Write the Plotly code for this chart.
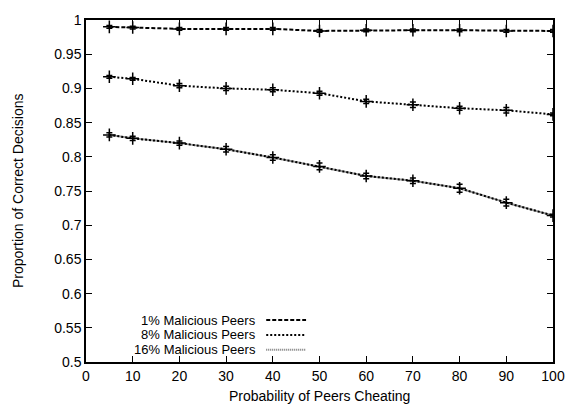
import plotly.graph_objects as go

x_vals = [5, 10, 20, 30, 40, 50, 60, 70, 80, 90, 100]
series_names = ["1% Malicious Peers", "8% Malicious Peers", "16% Malicious Peers"]
y_1pct = [0.990, 0.989, 0.987, 0.987, 0.987, 0.984, 0.985, 0.985, 0.985, 0.984, 0.984]
y_8pct = [0.917, 0.914, 0.904, 0.900, 0.898, 0.893, 0.881, 0.876, 0.871, 0.868, 0.862]
y_16pct = [0.832, 0.827, 0.820, 0.811, 0.799, 0.786, 0.772, 0.765, 0.754, 0.733, 0.714]
err_1pct = [0.002, 0.002, 0.002, 0.002, 0.002, 0.002, 0.002, 0.002, 0.002, 0.002, 0.002]
err_8pct = [0.002, 0.002, 0.003, 0.003, 0.003, 0.003, 0.003, 0.004, 0.003, 0.004, 0.002]
err_16pct = [0.003, 0.003, 0.003, 0.004, 0.004, 0.005, 0.004, 0.004, 0.006, 0.005, 0.002]

x_ticks = [0, 10, 20, 30, 40, 50, 60, 70, 80, 90, 100]
y_ticks = [0.5, 0.55, 0.6, 0.65, 0.7, 0.75, 0.8, 0.85, 0.9, 0.95, 1.0]
y_tick_text = ["0.5", "0.55", "0.6", "0.65", "0.7", "0.75", "0.8", "0.85", "0.9", "0.95", "1"]

FONT = "Liberation Sans, Arial, sans-serif"

fig = go.Figure()

styles = [
    dict(color="black", dash="4px,2px", width=2),
    dict(color="black", dash="2px,2px", width=2),
    dict(color="black", dash="2px,2px", width=2),
]
ys = [y_1pct, y_8pct, y_16pct]
errs = [err_1pct, err_8pct, err_16pct]

# gray underlay for the 16% series
fig.add_trace(go.Scatter(x=x_vals, y=y_16pct, mode="lines",
                         line=dict(color="#999999", width=2),
                         showlegend=False, hoverinfo="skip"))

for name, y, e, st in zip(series_names, ys, errs, styles):
    fig.add_trace(go.Scatter(
        x=x_vals, y=y, name=name, mode="lines+markers",
        line=st,
        marker=dict(symbol="cross-thin", size=9, line=dict(color="black", width=1.5)),
        error_y=dict(type="data", array=e, visible=True, color="black", thickness=1.5, width=3),
        showlegend=False,
    ))

# custom gnuplot-style legend (text then sample line)
legend_y = [320.0, 334.8, 349.6]
legend_dash = ["4px,2px", "2px,2px", "1px,1px"]
legend_col = ["black", "black", "#777777"]
for i, name in enumerate(series_names):
    ypaper = 1 - (legend_y[i] - 19) / (362 - 19)
    fig.add_annotation(x=(258 - 86) / (555 - 86), y=ypaper, xref="paper", yref="paper",
                       text=name, showarrow=False, xanchor="right", yanchor="middle",
                       borderpad=0,
                       font=dict(family=FONT, size=13, color="black"))
    fig.add_shape(type="line", xref="paper", yref="paper",
                  x0=(267 - 86) / (555 - 86), x1=(307 - 86) / (555 - 86), y0=ypaper, y1=ypaper,
                  line=dict(color=legend_col[i], width=2, dash=legend_dash[i]))

fig.add_annotation(x=0, y=0.5, xref="paper", yref="paper", xshift=-68,
                   text="Proportion of Correct Decisions", textangle=-90, showarrow=False,
                   xanchor="center", yanchor="middle",
                   font=dict(family=FONT, size=14, color="black"))
fig.add_annotation(x=0.5, y=0, xref="paper", yref="paper", yshift=-34,
                   text="Probability of Peers Cheating", showarrow=False,
                   xanchor="center", yanchor="middle",
                   font=dict(family=FONT, size=14, color="black"))

axis_common = dict(showline=True, linecolor="black", linewidth=1.5, mirror="ticks",
                   ticks="inside", ticklen=6, tickwidth=1, tickcolor="black",
                   showgrid=False, zeroline=False,
                   tickfont=dict(family=FONT, size=14, color="black"))

fig.update_xaxes(range=[0, 100], tickvals=x_ticks, **axis_common)
fig.update_yaxes(range=[0.5, 1.0], tickvals=y_ticks, ticktext=y_tick_text, **axis_common)

fig.update_layout(width=577, height=405, margin=dict(l=86, r=22, t=19, b=43),
                  paper_bgcolor="white", plot_bgcolor="white", showlegend=False)

fig.write_html("out.html")
